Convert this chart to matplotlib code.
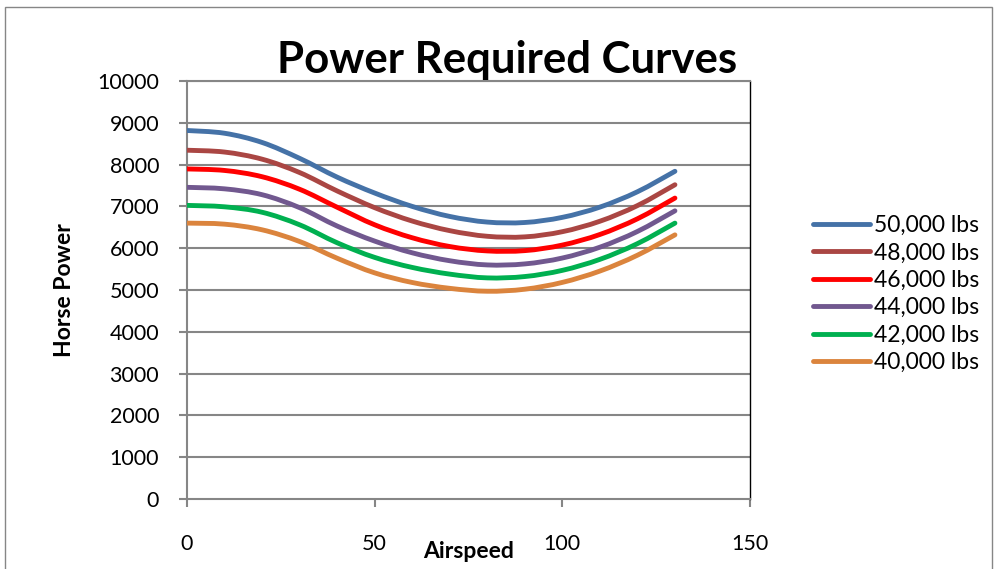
import numpy as np
import matplotlib
matplotlib.use("Agg")
import matplotlib.pyplot as plt
from matplotlib.path import Path
from matplotlib.patches import PathPatch, Rectangle
from matplotlib.lines import Line2D

plt.rcParams['font.family'] = ['Lato', 'DejaVu Sans']

# airspeed samples and horse power per gross weight
airspeed = [0, 10, 20, 30, 40, 50, 60, 70, 80, 90, 100, 110, 120, 130]
hp_50k = [8816, 8750, 8530, 8150, 7700, 7320, 7000, 6760, 6625, 6615, 6738, 6983, 7350, 7840]
hp_48k = [8344, 8300, 8130, 7810, 7370, 6970, 6650, 6420, 6285, 6271, 6395, 6645, 7019, 7518]
hp_46k = [7896, 7860, 7710, 7410, 6980, 6560, 6250, 6040, 5935, 5942, 6075, 6328, 6703, 7199]
hp_44k = [7456, 7420, 7280, 6970, 6530, 6170, 5890, 5700, 5600, 5624, 5765, 6024, 6400, 6894]
hp_42k = [7024, 6990, 6860, 6560, 6130, 5780, 5540, 5380, 5290, 5322, 5470, 5733, 6109, 6600]
hp_40k = [6600, 6575, 6440, 6160, 5760, 5410, 5180, 5040, 4970, 5019, 5182, 5453, 5832, 6319]

labels = ['50,000 lbs', '48,000 lbs', '46,000 lbs', '44,000 lbs', '42,000 lbs', '40,000 lbs']
colors = ['#4572A7', '#AA4643', '#FF0000', '#71588F', '#00B050', '#DB843D']
series = [hp_50k, hp_48k, hp_46k, hp_44k, hp_42k, hp_40k]


def smooth_path(xs, ys):
    # excel-like smoothed line: bezier segments through the points
    p = np.column_stack((xs, ys)).astype(float)
    n = len(p)
    verts = [p[0]]
    codes = [Path.MOVETO]
    for i in range(n - 1):
        p0 = p[i - 1] if i > 0 else p[i]
        p1 = p[i]
        p2 = p[i + 1]
        p3 = p[i + 2] if i + 2 < n else p[i + 1]
        c1 = p1 + (p2 - p0) / 6
        c2 = p2 - (p3 - p1) / 6
        verts += [c1, c2, p2]
        codes += [Path.CURVE4] * 3
    return Path(verts, codes)


fig = plt.figure(figsize=(9.97, 5.69), dpi=100)
ax = fig.add_axes([187/997, 1 - 499/569, (750 - 187)/997, (499 - 81)/569])

grid_col = '#868686'
for v in range(1000, 10001, 1000):
    ax.axhline(v, color=grid_col, lw=1.5, zorder=1)

for ys, c in zip(series, colors):
    patch = PathPatch(smooth_path(airspeed, ys), fill=False, edgecolor=c,
                      lw=3.5, capstyle='round', joinstyle='round', zorder=3)
    ax.add_patch(patch)

ax.set_xlim(0, 150)
ax.set_ylim(0, 10000)
ax.set_xticks([0, 50, 100, 150])
ax.set_yticks(range(0, 10001, 1000))

for side in ['left', 'bottom', 'top']:
    ax.spines[side].set_color(grid_col)
    ax.spines[side].set_linewidth(1.5)
ax.spines['right'].set_color('black')
ax.spines['right'].set_linewidth(1.0)

ax.tick_params(axis='x', length=6, width=1.5, color=grid_col, pad=19, labelsize=15.5)
ax.tick_params(axis='y', length=6, width=1.5, color=grid_col, pad=14, labelsize=15.5)

ax.set_xlabel('Airspeed', fontsize=16.5, fontweight='bold', labelpad=-9)
ax.set_ylabel('Horse Power', fontsize=16.5, fontweight='bold', labelpad=16)

fig.text(0.509, 0.895, 'Power Required Curves', fontsize=31.5, fontweight='bold',
         ha='center', va='center')

handles = [Line2D([], [], color=c, lw=3.5, solid_capstyle='round') for c in colors]
fig.legend(handles, labels, loc='center left', bbox_to_anchor=(813/997, 1 - 294/569),
           frameon=False, fontsize=16.5, handlelength=2.5, handletextpad=0.18,
           labelspacing=0.28, borderaxespad=0, borderpad=0)

fig.patches.append(Rectangle((5/997, -0.1), 987/997, 1.1 - 7/569, transform=fig.transFigure,
                             fill=False, edgecolor='#868686', lw=1.0))

fig.savefig('out.png', dpi=100)
